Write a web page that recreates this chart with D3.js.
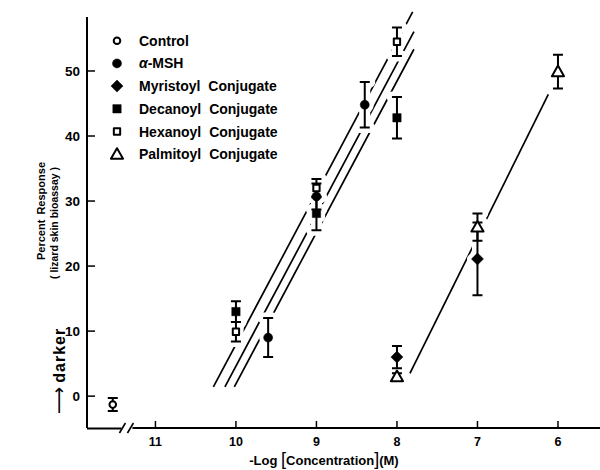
<!DOCTYPE html>
<html>
<head>
<meta charset="utf-8">
<script src="https://cdn.jsdelivr.net/npm/d3@7/dist/d3.min.js"></script>
<style>
  body { margin: 0; background: #fff; }
  text { font-family: 'Liberation Sans', Arial, sans-serif; font-weight: bold; fill: #000; }
</style>
</head>
<body>
<div id="chart"></div>
<script>
// -log[concentration] ticks and percent response ticks
const xTicks = [11, 10, 9, 8, 7, 6];
const yTicks = [0, 10, 20, 30, 40, 50];

// each point: [ -log conc, percent response, error ]
const control   = [[11.53, -1.3, 1.0]];
const msh       = [[9.6, 9.0, 3.0], [9, 30.7, 2.0], [8.4, 44.8, 3.5]];
const myristoyl = [[8, 6.0, 1.7], [7, 21.1, 5.6]];
const decanoyl  = [[10, 13.0, 1.6], [9, 28.1, 2.6], [8, 42.8, 3.2]];
const hexanoyl  = [[10, 9.9, 1.5], [9, 32.0, 1.4], [8, 54.5, 2.2]];
const palmitoyl = [[8, 3.0, 0.5], [7, 26.0, 2.1], [6, 49.9, 2.6]];

// fitted lines, start and end in data units
const fitStart = [[10.28, 1.43], [10.137, 1.43], [10.02, 1.43], [7.839, 3.49]];
const fitEnd   = [[7.805, 59.1], [7.789, 56.05], [7.789, 53.34], [6.12, 46.4]];

const axisBreak = 11.36;

const seriesList = [
  { label: 'Control', sym: 'circle', fill: false, pts: control },
  { label: 'α-MSH', sym: 'circle', fill: true, pts: msh },
  { label: 'Myristoyl Conjugate', sym: 'diamond', fill: true, pts: myristoyl },
  { label: 'Decanoyl Conjugate', sym: 'square', fill: true, pts: decanoyl },
  { label: 'Hexanoyl Conjugate', sym: 'square', fill: false, pts: hexanoyl },
  { label: 'Palmitoyl Conjugate', sym: 'triangle', fill: false, pts: palmitoyl },
];

const W = 600, H = 470;
const svg = d3.select('#chart').append('svg').attr('width', W).attr('height', H);

const x = d3.scaleLinear().domain([11.85, 5.478]).range([87, 600]);
const y = d3.scaleLinear().domain([-4.9, 58.3]).range([428, 17]);

function symPath(d) {
  if (d.fill) {
    if (d.sym === 'circle') return d3.symbol(d3.symbolCircle, 64)();
    if (d.sym === 'square') return d3.symbol(d3.symbolSquare, 70)();
    return d3.symbol(d3.symbolSquare, 72)(); // diamond = square turned 45deg
  }
  if (d.sym === 'square') return d3.symbol(d3.symbolSquare, 40)();
  if (d.sym === 'circle') return d3.symbol(d3.symbolCircle, 34)();
  return d3.symbol(d3.symbolTriangle, 64)();
}
function drawSym(g, d, px, py, halo) {
  const rot = d.sym === 'diamond' ? ' rotate(45)' : '';
  const dy = d.sym === 'triangle' ? 1 : 0;
  return g.append('path').attr('d', symPath(d))
    .attr('transform', `translate(${px},${py + dy})${rot}`)
    .attr('fill', halo ? 'none' : (d.fill ? '#000' : '#fff'))
    .attr('stroke', halo ? '#fff' : '#000')
    .attr('stroke-width', halo ? 9 : (d.fill ? 0.5 : 2))
    .attr('stroke-linejoin', 'round');
}

// axes
const axG = svg.append('g').attr('stroke', '#000').attr('fill', 'none');
axG.append('line').attr('x1', x.range()[0]).attr('x2', x.range()[0])
  .attr('y1', y.range()[0]).attr('y2', y.range()[1]).attr('stroke-width', 2);
const bx = x(axisBreak);
axG.append('line').attr('x1', x.range()[0]).attr('x2', bx - 5)
  .attr('y1', y.range()[0] + 0.5).attr('y2', y.range()[0] + 0.5).attr('stroke-width', 2);
axG.append('line').attr('x1', bx + 6).attr('x2', x.range()[1])
  .attr('y1', y.range()[0]).attr('y2', y.range()[0]).attr('stroke-width', 2);
[-4, 4].forEach(o => {
  axG.append('line').attr('x1', bx + o - 3).attr('x2', bx + o + 3)
    .attr('y1', y.range()[0] + 5).attr('y2', y.range()[0] - 5).attr('stroke-width', 1.6);
});

xTicks.forEach(t => {
  axG.append('line').attr('x1', x(t)).attr('x2', x(t))
    .attr('y1', y.range()[0]).attr('y2', y.range()[0] - 7).attr('stroke-width', 1.5);
  svg.append('text').attr('x', x(t)).attr('y', 446).attr('text-anchor', 'middle')
    .attr('font-size', '12.5px').text(t);
});
yTicks.forEach(t => {
  axG.append('line').attr('x1', x.range()[0]).attr('x2', x.range()[0] + 8)
    .attr('y1', y(t)).attr('y2', y(t)).attr('stroke-width', 1.5);
  svg.append('text').attr('x', 80).attr('y', y(t)).attr('dy', '0.36em').attr('text-anchor', 'end')
    .attr('font-size', '13.5px').text(t);
});

// axis titles
const xl = svg.append('text').attr('x', 324).attr('y', 465).attr('text-anchor', 'middle').attr('font-size', '13px');
xl.append('tspan').text('-Log ');
xl.append('tspan').attr('font-size', '18px').attr('font-weight', 'normal').text('[');
xl.append('tspan').text('Concentration');
xl.append('tspan').attr('font-size', '18px').attr('font-weight', 'normal').text(']');
xl.append('tspan').text('(M)');

svg.append('text').attr('transform', 'translate(45,211) rotate(-90)').attr('text-anchor', 'middle')
  .attr('font-size', '11px').attr('word-spacing', '2px').text('Percent Response');
svg.append('text').attr('transform', 'translate(57.5,223) rotate(-90)').attr('text-anchor', 'middle')
  .attr('font-size', '10.5px').text('( lizard skin bioassay )');
const dk = svg.append('text').attr('transform', 'translate(65,414) rotate(-90)').attr('font-size', '16px');
dk.append('tspan').attr('font-family', 'DejaVu Sans').attr('font-weight', 'normal').attr('font-size', '19px').text('⟶');
dk.append('tspan').attr('letter-spacing', '1px').attr('dx', 4).text('darker');

// fitted lines
const lineG = svg.append('g');
fitStart.forEach((s, i) => {
  lineG.append('line')
    .attr('x1', x(s[0])).attr('y1', y(s[1]))
    .attr('x2', x(fitEnd[i][0])).attr('y2', y(fitEnd[i][1]))
    .attr('stroke', '#000').attr('stroke-width', 1.7);
});

// white halos so the lines break around the marks
const haloG = svg.append('g');
const markG = svg.append('g');
const barPath = (px, yt, yb) => `M${px},${yt}V${yb}M${px - 5},${yt}H${px + 5}M${px - 5},${yb}H${px + 5}`;
seriesList.forEach(s => {
  s.pts.forEach(p => {
    const px = x(p[0]);
    haloG.append('path').attr('d', barPath(px, y(p[1] + p[2]), y(p[1] - p[2])))
      .attr('stroke', '#fff').attr('stroke-width', 11).attr('stroke-linecap', 'round').attr('fill', 'none');
    drawSym(haloG, s, px, y(p[1]), true);
  });
});
seriesList.forEach(s => {
  s.pts.forEach(p => {
    markG.append('path').attr('d', barPath(x(p[0]), y(p[1] + p[2]), y(p[1] - p[2])))
      .attr('stroke', '#000').attr('stroke-width', 2).attr('fill', 'none');
  });
});
seriesList.forEach(s => {
  s.pts.forEach(p => drawSym(markG, s, x(p[0]), y(p[1]), false));
});

// legend
const leg = svg.append('g');
seriesList.forEach((s, i) => {
  const ly = 40.7 + i * 22.7;
  drawSym(leg, s, 117, ly, false);
  const t = leg.append('text').attr('x', 139).attr('y', ly).attr('dy', '0.36em')
    .attr('font-size', '14px').attr('word-spacing', '4px');
  if (s.label.startsWith('α')) {
    t.append('tspan').attr('font-style', 'italic').text('α');
    t.append('tspan').text(s.label.slice(1));
  } else {
    t.text(s.label);
  }
});
</script>
</body>
</html>
